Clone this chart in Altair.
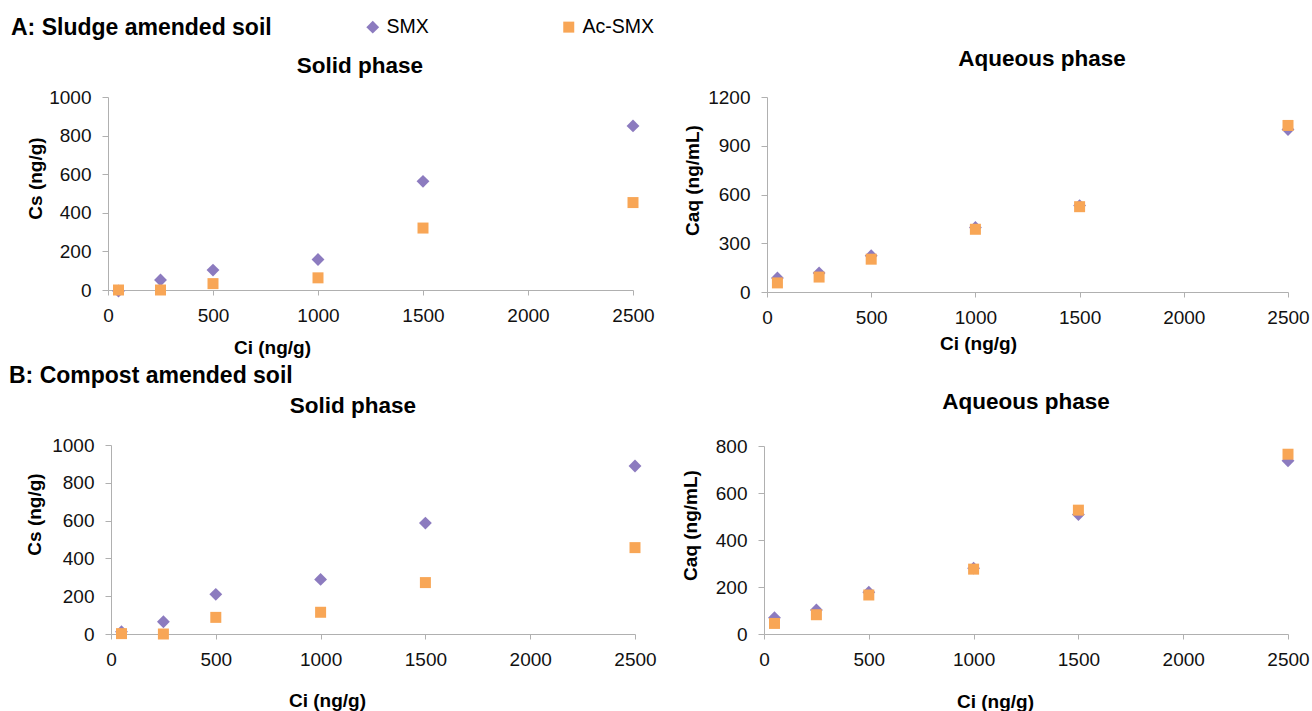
import altair as alt
import pandas as pd

# ---------------- data ----------------
ci = [50, 250, 500, 1000, 1500, 2500]
series_names = ["SMX", "Ac-SMX"]

a_solid_smx = [-5, 52, 103, 158, 563, 850]
a_solid_ac = [0, 0, 33, 63, 321, 453]
a_aq_smx = [86, 117, 223, 397, 532, 1000]
a_aq_ac = [56, 92, 202, 386, 525, 1025]
b_solid_smx = [12, 65, 210, 289, 587, 889]
b_solid_ac = [2, 0, 88, 115, 272, 457]
b_aq_smx = [69, 102, 178, 280, 508, 737]
b_aq_ac = [45, 82, 166, 276, 527, 765]

x_ticks = [0, 500, 1000, 1500, 2000, 2500]
cs_ticks = [0, 200, 400, 600, 800, 1000]
caq_ticks_a = [0, 300, 600, 900, 1200]
caq_ticks_b = [0, 200, 400, 600, 800]

# ---------------- style ----------------
W, H = 1312, 711
FONT = "Liberation Sans"
PURPLE = "#8C7BBF"
ORANGE = "#F8A656"
AXIS_GRAY = "#B0B0B0"

legend = alt.Legend(
    title=None, orient="none", legendX=363, legendY=17, direction="horizontal",
    symbolSize=80, labelFont=FONT, labelFontSize=19.5, labelColor="#000000",
    labelOffset=4, columnPadding=130, symbolStrokeWidth=0, padding=0,
)


def panel(smx, ac, x_range, y_range, y_ticks, y_title, x_title_pos, y_title_pos):
    df = pd.DataFrame({
        "ci": ci + ci,
        "val": smx + ac,
        "series": ["SMX"] * len(ci) + ["Ac-SMX"] * len(ci),
    })
    x_axis = alt.Axis(
        orient="bottom", offset=y_range[0] - H, values=x_ticks, grid=False, format="d",
        tickSize=5, labelPadding=11, domainColor=AXIS_GRAY, tickColor=AXIS_GRAY,
        labelFont=FONT, labelFontSize=19, labelColor="#111111", labelFlush=False,
        labelOverlap=False, title="Ci (ng/g)", titleFont=FONT, titleFontSize=19,
        titleFontWeight="bold", titleColor="#000000",
        titleX=x_title_pos[0], titleY=x_title_pos[1] - y_range[0],
        titleBaseline="middle", titleAlign="center",
    )
    y_axis = alt.Axis(
        orient="left", offset=-x_range[0], values=y_ticks, grid=False, format="d",
        tickSize=6, labelPadding=11, domainColor=AXIS_GRAY, tickColor=AXIS_GRAY,
        labelFont=FONT, labelFontSize=19, labelColor="#111111",
        labelOverlap=False, title=y_title, titleFont=FONT, titleFontSize=19,
        titleFontWeight="bold", titleColor="#000000",
        titleX=y_title_pos[0] - x_range[0], titleY=y_title_pos[1],
        titleBaseline="middle", titleAlign="center",
    )
    return alt.Chart(df).mark_point(filled=True, opacity=1, strokeWidth=0).encode(
        x=alt.X("ci:Q", scale=alt.Scale(domain=[0, 2500], range=list(x_range), nice=False), axis=x_axis),
        y=alt.Y("val:Q", scale=alt.Scale(domain=[0, y_ticks[-1]], range=list(y_range), nice=False), axis=y_axis),
        color=alt.Color("series:N", scale=alt.Scale(domain=series_names, range=[PURPLE, ORANGE]), legend=legend),
        shape=alt.Shape("series:N", scale=alt.Scale(domain=series_names, range=["diamond", "square"]), legend=legend),
        size=alt.Size("series:N", scale=alt.Scale(domain=series_names, range=[165, 121]), legend=None),
    )


def label(text, x, y, size, align="center"):
    return alt.Chart(pd.DataFrame({"t": [text]})).mark_text(
        font=FONT, fontSize=size, fontWeight="bold", align=align,
        baseline="alphabetic", color="#000000",
    ).encode(x=alt.value(x), y=alt.value(y), text="t:N")


p1 = panel(a_solid_smx, a_solid_ac, (108, 633), (290, 97), cs_ticks, "Cs (ng/g)", (272, 347), (35, 178))
p2 = panel(a_aq_smx, a_aq_ac, (767, 1288), (292, 97), caq_ticks_a, "Caq (ng/mL)", (978, 343), (692, 180))
p3 = panel(b_solid_smx, b_solid_ac, (111, 635), (634, 445), cs_ticks, "Cs (ng/g)", (34, 514), (34, 514))
p3 = panel(b_solid_smx, b_solid_ac, (111, 635), (634, 445), cs_ticks, "Cs (ng/g)", (327, 700), (34, 514))
p4 = panel(b_aq_smx, b_aq_ac, (764, 1288), (634, 446), caq_ticks_b, "Caq (ng/mL)", (995, 701), (690, 525))

texts = [
    label("A: Sludge amended soil", 11, 35, 23, "left"),
    label("B: Compost amended soil", 9, 383, 23, "left"),
    label("Solid phase", 360, 73, 22.5),
    label("Aqueous phase", 1042, 66, 22.5),
    label("Solid phase", 353, 413, 22.5),
    label("Aqueous phase", 1026, 409, 22.5),
]

chart = alt.layer(p1, p2, p3, p4, *texts).resolve_scale(
    x="independent", y="independent"
).properties(
    width=W, height=H, autosize=alt.AutoSizeParams(type="none"), padding=0,
    background="white",
).configure_view(stroke=None)

chart.save("out.html", embed_options={"renderer": "svg", "actions": False})
